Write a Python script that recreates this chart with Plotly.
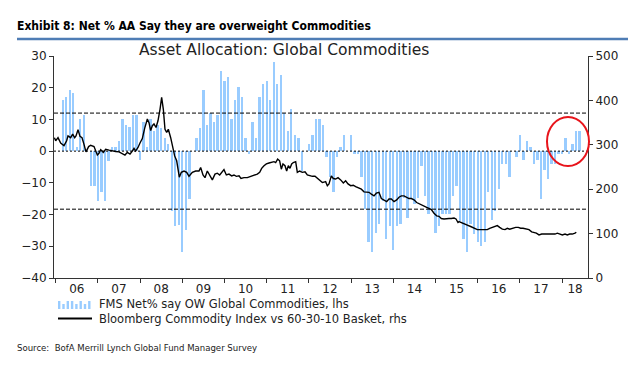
import pandas as pd
import plotly.graph_objects as go

# ---------------- data ----------------
fms_start = "2006-03"   # first monthly survey bar
fms_net_ow = [
    16.2, 17.0, 19.3, 18.4, 1.4, 10.2, 11.4, 0, -11.1, -11.1,
    -15.8, -12.9, -15.8, -3.0, 1.4, 1.4, 3.3, 10.2, 8.3, 7.5,
    11.4, 11.4, -2.9, 9.3, 1.4, 10.2, 6.4, 8.3, 7.3, 4.2,
    2.4, -18.9, -23.7, -23.2, -31.9, -25.0, -15.0,
    0, 4.2, 7.3, 19.3, 8.3, 12.0, 9.2, 11.4, 25.3, 22.1,
    23.4, 10.2, 16.2, 20.3, 17.1, 4.2, -0.9, 9.2, 4.2, 17.1,
    21.2, 22.1, 16.2, 28.1, 21.2, 24.1, 12.0, 6.4, 13.3, 5.2,
    4.2, -6.4, 0, 2.3, 5.1, 10.2, 10.2, 8.3,
    -2.0, -8.0, -13.0, -2.0, 1.4, 5.1, 0, 5.1, -0.9, -0.9,
    -8.0, -18.2, -28.8, -31.9, -25.9, -23.1, -15.8, -27.8, -23.7, -31.1,
    -23.7, -23.1, -14.8, -21.0, -14.8, -16.8, -14.8, -4.8, -14.0, -19.9,
    -18.2, -25.9, -23.7, -19.9, -19.9, -19.9, -14.0, -11.1,
    -21.9, -27.8, -31.9, -23.1, -26.0, -28.6, -30.0, -28.8, -13.0, -21.8,
    -18.9, -11.8, -3.9, -3.9, -8.0, 0, -2.0, 5.1, -2.9, 3.3,
    1.4, -3.9, -2.9, -15.0, -6.1, -8.9, -3.9, -3.9, -0.9, -0.9,
    4.2, -0.9, 2.3, 6.4, 6.4,
]

bcom_year = [
    2005.97, 2006.000, 2006.055, 2006.118, 2006.197, 2006.260, 2006.292, 2006.355, 2006.402, 2006.450,
    2006.481, 2006.529, 2006.576, 2006.624, 2006.671, 2006.718, 2006.781, 2006.829, 2006.908, 2006.947,
    2006.987, 2007.026, 2007.066, 2007.129, 2007.184, 2007.263, 2007.342, 2007.421, 2007.500, 2007.579,
    2007.642, 2007.698, 2007.761, 2007.816, 2007.856, 2007.895, 2007.951, 2007.998, 2008.053, 2008.108,
    2008.172, 2008.211, 2008.251, 2008.290, 2008.330, 2008.377, 2008.424, 2008.472, 2008.511, 2008.551,
    2008.590, 2008.630, 2008.669, 2008.725, 2008.772, 2008.819, 2008.867, 2008.898, 2008.930, 2008.977,
    2009.041, 2009.104, 2009.159,
    2009.238, 2009.317, 2009.396, 2009.435, 2009.491, 2009.538, 2009.593, 2009.649, 2009.712, 2009.775,
    2009.830, 2009.886, 2009.933, 2009.988, 2010.044, 2010.107, 2010.170, 2010.225, 2010.281, 2010.344,
    2010.391, 2010.462, 2010.541, 2010.620, 2010.699, 2010.778, 2010.834, 2010.881, 2010.936, 2010.992,
    2011.055, 2011.118, 2011.173, 2011.213, 2011.260, 2011.307, 2011.347, 2011.386, 2011.434, 2011.473,
    2011.513, 2011.552, 2011.592, 2011.631, 2011.687, 2011.726, 2011.781, 2011.845, 2011.908, 2011.963,
    2012.018, 2012.082, 2012.145, 2012.200, 2012.255, 2012.319, 2012.358,
    2012.397, 2012.437, 2012.476, 2012.532, 2012.579, 2012.634, 2012.690, 2012.753, 2012.816, 2012.871,
    2012.927, 2012.990, 2013.053, 2013.108, 2013.187, 2013.243, 2013.306, 2013.369, 2013.424, 2013.480,
    2013.543, 2013.598, 2013.661, 2013.717, 2013.780, 2013.843, 2013.898, 2013.954, 2014.017, 2014.080,
    2014.135, 2014.191, 2014.254, 2014.317, 2014.372, 2014.428, 2014.491, 2014.554, 2014.609, 2014.665,
    2014.728, 2014.791, 2014.846, 2014.901, 2014.965, 2015.028, 2015.083, 2015.138, 2015.202, 2015.265,
    2015.320, 2015.375, 2015.439, 2015.486, 2015.533,
    2015.557, 2015.620, 2015.675, 2015.754, 2015.833, 2015.912, 2015.991, 2016.070, 2016.149, 2016.228,
    2016.284, 2016.347, 2016.410, 2016.465, 2016.521, 2016.584, 2016.647, 2016.702, 2016.758, 2016.821,
    2016.900, 2016.963, 2017.018, 2017.074, 2017.137, 2017.216, 2017.279, 2017.334, 2017.390, 2017.453,
    2017.516, 2017.579, 2017.650, 2017.705, 2017.769, 2017.832, 2017.887, 2017.943, 2018.006, 2018.069,
    2018.124, 2018.180, 2018.243, 2018.306, 2018.337,
]
bcom_value = [
    316, 309, 316, 304, 298, 309, 320, 316, 324, 316,
    320, 334, 319, 316, 301, 284, 296, 299, 296, 286,
    277, 281, 289, 283, 290, 288, 286, 285, 284, 281,
    277, 283, 279, 286, 292, 286, 294, 304, 314, 337,
    358, 350, 332, 343, 347, 339, 354, 380, 407, 380,
    335, 328, 335, 316, 294, 275, 264, 245, 227, 238,
    241, 238, 229,
    238, 241, 241, 249, 232, 226, 241, 230, 221, 234,
    236, 232, 238, 244, 232, 234, 230, 232, 229, 230,
    224, 226, 226, 229, 232, 234, 238, 247, 253, 257,
    259, 260, 262, 260, 268, 264, 245, 257, 253, 241,
    253, 247, 257, 260, 262, 238, 241, 238, 239, 232,
    230, 229, 229, 224, 221, 215, 216,
    217, 208, 212, 230, 224, 223, 226, 221, 214, 219,
    212, 208, 209, 206, 202, 200, 194, 193, 193, 189,
    185, 191, 193, 179, 176, 172, 178, 178, 172, 176,
    182, 185, 185, 182, 179, 179, 176, 170, 167, 164,
    161, 159, 157, 154, 146, 140, 139, 134, 133, 134,
    134, 134, 135, 133, 125,
    127, 124, 121, 119, 116, 112, 109, 109, 109, 109,
    112, 114, 116, 118, 114, 110, 109, 112, 110, 112,
    114, 114, 112, 112, 110, 109, 104, 103, 101, 97,
    99, 99, 99, 99, 99, 99, 101, 99, 97, 99,
    97, 99, 99, 101, 103,
]

year_labels = ["06", "07", "08", "09", "10", "11", "12", "13", "14", "15", "16", "17", "18"]
upper_band = 12.0     # dashed reference lines (lhs)
lower_band = -18.3

# ---------------- layout helpers ----------------
# the page body adds an 8px margin, so the figure is made 8px smaller and
# every target position (given in window pixels) is shifted by that offset
OFF = 8
W, H = 640 - OFF, 367 - OFF
PLOT_L, PLOT_R, PLOT_T, PLOT_B = 54, 588, 56, 278     # window pixels
ML, MR, MT, MB = PLOT_L - OFF, W - (PLOT_R - OFF), PLOT_T - OFF, H - (PLOT_B - OFF)
PW, PH = PLOT_R - PLOT_L, PLOT_B - PLOT_T
X_MIN, X_MAX = 2005.96, 2018.614


def px_x(px):
    return (px - PLOT_L) / PW


def px_y(py):
    return (PLOT_B - py) / PH


months = pd.period_range(fms_start, periods=len(fms_net_ow), freq="M")
bar_x = [p.year + (p.month - 1) / 12 for p in months]

tick_pos = [2000 + int(l) + 0.5 for l in year_labels[:-1]]
tick_pos.append((2000 + int(year_labels[-1]) + X_MAX) / 2)

BAR_COLOR = "#99CCFF"
AX_COLOR = "#333333"
FONT = "DejaVu Sans"
TXT = "#222222"
NARROW = "Liberation Sans Narrow, DejaVu Sans Condensed, Roboto Condensed, Roboto"

fig = go.Figure()
fig.add_trace(go.Bar(
    x=bar_x, y=fms_net_ow, width=0.056,
    marker=dict(color=BAR_COLOR, line=dict(width=0)),
    name="FMS Net% say OW Global Commodities, lhs", showlegend=False,
))
fig.add_trace(go.Scatter(
    x=bcom_year, y=bcom_value, yaxis="y2", mode="lines",
    line=dict(color="black", width=1.4),
    name="Bloomberg Commodity Index vs 60-30-10 Basket, rhs", showlegend=False,
))

shapes = []
for val, dash in ((upper_band, "4px,2px"), (lower_band, "4px,2px"), (0, "2px,2px")):
    shapes.append(dict(type="line", xref="paper", yref="y", x0=0, x1=1, y0=val, y1=val,
                       line=dict(color="black", width=1, dash=dash), layer="above"))

# header rule
shapes.append(dict(type="line", xref="paper", yref="paper", x0=px_x(17), x1=px_x(628),
                   y0=px_y(39), y1=px_y(39), line=dict(color="#4F7DB5", width=2.5)))
# red highlight circle
shapes.append(dict(type="circle", xref="paper", yref="paper",
                   x0=px_x(547), x1=px_x(589), y0=px_y(166), y1=px_y(117),
                   line=dict(color="#E8141B", width=2)))
# legend icons
icon_h = [8, 5, 8, 8, 5, 8, 5, 8]
for i, h in enumerate(icon_h):
    x0 = 58 + i * 4.3
    shapes.append(dict(type="rect", xref="paper", yref="paper",
                       x0=px_x(x0), x1=px_x(x0 + 2.4), y0=px_y(309), y1=px_y(309 - h),
                       fillcolor=BAR_COLOR, line=dict(width=0)))
shapes.append(dict(type="line", xref="paper", yref="paper", x0=px_x(58), x1=px_x(92),
                   y0=px_y(318.5), y1=px_y(318.5), line=dict(color="black", width=2)))

annotations = [
    dict(text="<b>Exhibit 8: Net % AA Say they are overweight Commodities</b>",
         xref="paper", yref="paper", x=px_x(16), y=px_y(26), xanchor="left", yanchor="middle",
         showarrow=False, borderpad=0, font=dict(family=NARROW, size=12, color="black")),
    dict(text="Asset Allocation: Global Commodities",
         xref="paper", yref="paper", x=px_x(284), y=px_y(50), xanchor="center", yanchor="middle",
         showarrow=False, borderpad=0, font=dict(family=FONT, size=15.5, color=TXT)),
    dict(text="FMS Net% say OW Global Commodities, lhs",
         xref="paper", yref="paper", x=px_x(98), y=px_y(304), xanchor="left", yanchor="middle",
         showarrow=False, borderpad=0, font=dict(family=FONT, size=11.5, color=TXT)),
    dict(text="Bloomberg Commodity Index vs 60-30-10 Basket, rhs",
         xref="paper", yref="paper", x=px_x(98), y=px_y(318.5), xanchor="left", yanchor="middle",
         showarrow=False, borderpad=0, font=dict(family=FONT, size=11.5, color=TXT)),
    dict(text="Source:  BofA Merrill Lynch Global Fund Manager Survey",
         xref="paper", yref="paper", x=px_x(16), y=px_y(347), xanchor="left", yanchor="middle",
         showarrow=False, borderpad=0,
         font=dict(family="Liberation Sans Narrow, DejaVu Sans Condensed, Liberation Sans",
                   size=9.5, color=TXT)),
]

tickfont = dict(family=FONT, size=12, color=TXT)
fig.update_layout(
    width=W, height=H, autosize=False,
    margin=dict(l=ML, r=MR, t=MT, b=MB, pad=0),
    paper_bgcolor="white", plot_bgcolor="white",
    showlegend=False, bargap=0,
    xaxis=dict(
        range=[X_MIN, X_MAX], tickmode="array", tickvals=tick_pos, ticktext=year_labels,
        ticks="", showgrid=False, zeroline=False, showline=True, linecolor=AX_COLOR, linewidth=1,
        tickfont=tickfont,
        minor=dict(tickmode="linear", tick0=2006, dtick=1, ticks="outside", ticklen=4,
                   tickcolor=AX_COLOR, showgrid=False),
    ),
    yaxis=dict(
        range=[-40, 30], tickmode="linear", tick0=-40, dtick=10, ticks="outside", ticklen=4,
        tickcolor=AX_COLOR, showgrid=False, zeroline=False, showline=True, linecolor=AX_COLOR,
        linewidth=1, tickfont=tickfont,
    ),
    yaxis2=dict(
        range=[0, 500], tickmode="linear", tick0=0, dtick=100, ticks="outside", ticklen=4,
        tickcolor=AX_COLOR, showgrid=False, zeroline=False, showline=True, linecolor=AX_COLOR,
        linewidth=1, tickfont=tickfont, overlaying="y", side="right",
    ),
    shapes=shapes, annotations=annotations,
)

fig.write_html("out.html")
